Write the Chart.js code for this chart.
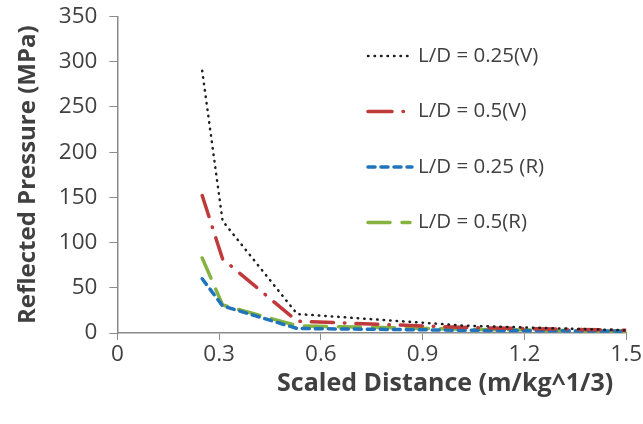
<!DOCTYPE html>
<html>
<head>
<meta charset="utf-8">
<script src="https://cdn.jsdelivr.net/npm/chart.js@4"></script>
<style>
html, body { margin:0; padding:0; background:#fff; }
</style>
</head>
<body>
<canvas id="myChart" width="643" height="424"></canvas>
<script>
const distance = [0.25, 0.31, 0.53, 1.03, 1.5];
const ld025V = [290, 124, 21, 8, 3];
const ld05V = [152, 82, 13, 6, 3];
const ld025R = [60, 30, 5, 3, 2];
const ld05R = [83, 31, 8, 4, 2];
const seriesNames = ["L/D = 0.25(V)", "L/D = 0.5(V)", "L/D = 0.25 (R)", "L/D = 0.5(R)"];
const xTicks = [0, 0.3, 0.6, 0.9, 1.2, 1.5];
const xTickLabels = ["0", "0.3", "0.6", "0.9", "1.2", "1.5"];
const yTicks = [0, 50, 100, 150, 200, 250, 300, 350];

const pts = (ys) => ys.map((y, i) => ({x: distance[i], y: y}));
const tickColor = '#404040';
const axisColor = '#8a8a8a';

// legend drawn inside the plot, one row per series
const sideLegend = {
    id: 'sideLegend',
    afterDraw(chart) {
        const ctx = chart.ctx;
        chart.data.datasets.forEach((ds, i) => {
            const y = 56 + i * 55.5;
            ctx.save();
            ctx.strokeStyle = ds.borderColor;
            ctx.lineWidth = ds.borderWidth;
            ctx.lineCap = ds.borderCapStyle || 'butt';
            ctx.setLineDash(ds.legendDash || ds.borderDash || []);
            ctx.beginPath();
            ctx.moveTo(368, y);
            ctx.lineTo(412, y);
            ctx.stroke();
            ctx.setLineDash([]);
            ctx.fillStyle = tickColor;
            ctx.font = '20.5px "Open Sans"';
            ctx.textBaseline = 'middle';
            ctx.fillText(ds.label, 418, y);
            ctx.restore();
        });
    }
};

new Chart(document.getElementById("myChart"), {
    type: 'line',
    data: {
        datasets: [{
            label: seriesNames[0],
            data: pts(ld025V),
            borderColor: '#1f1f1f',
            borderWidth: 2.5,
            borderCapStyle: 'round',
            borderDash: [0.5, 6]
        }, {
            label: seriesNames[1],
            data: pts(ld05V),
            borderColor: '#c0393b',
            borderWidth: 3.5,
            borderCapStyle: 'round',
            borderDash: [22, 11, 0.5, 11],
            legendDash: [24, 11, 0.5, 40]
        }, {
            label: seriesNames[2],
            data: pts(ld025R),
            borderColor: '#1f74bb',
            borderWidth: 3.5,
            borderCapStyle: 'round',
            borderDash: [7, 6]
        }, {
            label: seriesNames[3],
            data: pts(ld05R),
            borderColor: '#86b340',
            borderWidth: 3.5,
            borderCapStyle: 'round',
            borderDash: [22, 12],
            legendDash: [22, 12, 8, 40]
        }]
    },
    options: {
        responsive: false,
        animation: false,
        elements: { point: { radius: 0 }, line: { tension: 0, fill: false } },
        layout: { padding: { top: 0, right: 12, bottom: 25, left: 14 } },
        plugins: { legend: { display: false }, tooltip: { enabled: false } },
        scales: {
            x: {
                type: 'linear',
                min: 0, max: 1.5,
                afterBuildTicks: (s) => { s.ticks = xTicks.map(v => ({value: v})); },
                ticks: {
                    color: tickColor,
                    font: { family: 'Open Sans', size: 22.5 },
                    padding: 1,
                    callback: (v, i) => xTickLabels[i]
                },
                grid: { drawOnChartArea: false, drawTicks: true, tickLength: 7, color: axisColor },
                border: { color: axisColor, width: 1.5 },
                title: {
                    display: true,
                    text: 'Scaled Distance (m/kg^1/3)\u00a0\u00a0',
                    align: 'end',
                    color: tickColor,
                    font: { family: 'Open Sans', size: 25, weight: 'bold' },
                    padding: { top: 0, bottom: 0 }
                }
            },
            y: {
                min: 0, max: 350,
                afterBuildTicks: (s) => { s.ticks = yTicks.map(v => ({value: v})); },
                ticks: {
                    color: tickColor,
                    font: { family: 'Open Sans', size: 22.5, lineHeight: 0.4 },
                    padding: 12
                },
                grid: { drawOnChartArea: false, drawTicks: true, tickLength: 8, color: axisColor },
                border: { color: axisColor, width: 1.5 },
                title: {
                    display: true,
                    text: 'Reflected Pressure (MPa)',
                    color: tickColor,
                    font: { family: 'Open Sans', size: 24, weight: 'bold' },
                    padding: { top: 0, bottom: 4 }
                }
            }
        }
    },
    plugins: [sideLegend]
});
</script>
</body>
</html>
